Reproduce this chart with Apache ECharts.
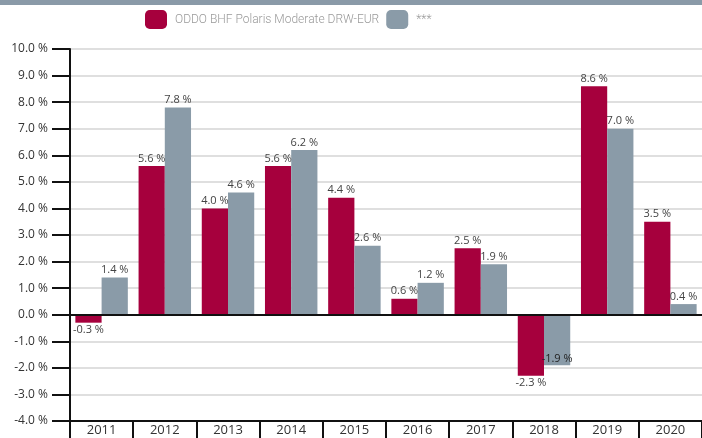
<!DOCTYPE html>
<html>
<head>
<meta charset="utf-8">
<script src="https://cdn.jsdelivr.net/npm/echarts@6/dist/echarts.min.js"></script>
<style>
html,body{margin:0;padding:0;background:#fff;}
#chart{width:702px;height:438px;}
</style>
</head>
<body>
<div id="chart"></div>
<script>
// data
var years = ['2011','2012','2013','2014','2015','2016','2017','2018','2019','2020'];
var fundValues = [-0.3, 5.6, 4.0, 5.6, 4.4, 0.6, 2.5, -2.3, 8.6, 3.5];
var refValues = [1.4, 7.8, 4.6, 6.2, 2.6, 1.2, 1.9, -1.9, 7.0, 0.4];
var seriesNames = ['ODDO BHF Polaris Moderate DRW-EUR', '***'];

var fmt = function(v){ return v.toFixed(1) + ' %'; };

// negative bars get the label underneath
function buildData(values, insideIdx){
  return values.map(function(v, i){
    var item = { value: v };
    if (i === insideIdx) {
      item.label = { position: 'insideBottom', distance: 1, color: '#222' };
    } else if (v < 0) {
      item.label = { position: 'bottom' };
    }
    return item;
  });
}

var myChart = echarts.init(document.getElementById('chart'));
var labelStyle = {
  show: true,
  position: 'top',
  distance: 2,
  fontFamily: 'Open Sans',
  fontSize: 11,
  color: '#444',
  formatter: function(p){ return fmt(p.value); }
};

var option = {
  animation: false,
  textStyle: { fontFamily: 'Open Sans' },
  graphic: [{
    type: 'rect',
    shape: { x: 0, y: 0, width: 702, height: 5 },
    style: { fill: '#8a9aa8' }
  }],
  legend: {
    left: 145,
    top: 10,
    padding: 0,
    icon: 'roundRect',
    itemWidth: 22,
    itemHeight: 19,
    itemGap: 7,
    textStyle: { color: '#9a9a9a', fontSize: 12, fontWeight: 300, fontFamily: 'Roboto', padding: [0, 0, 0, 3] },
    data: seriesNames
  },
  grid: { left: 70, right: 0, top: 49, bottom: 17 },
  xAxis: {
    type: 'category',
    data: years,
    axisLine: { onZero: false, lineStyle: { color: '#111', width: 2 } },
    axisTick: { show: true, length: 18, lineStyle: { color: '#111', width: 2 } },
    axisLabel: { color: '#333', fontSize: 13, margin: 3 }
  },
  yAxis: {
    type: 'value',
    min: -4,
    max: 10,
    interval: 1,
    axisLine: { show: true, lineStyle: { color: '#111', width: 2 } },
    axisTick: { show: true, length: 18, lineStyle: { color: '#111', width: 2 } },
    axisLabel: { color: '#333', fontSize: 12, margin: 22, formatter: fmt },
    splitLine: { lineStyle: { color: '#d4d4d4', width: 1.5 } }
  },
  series: [
    {
      name: seriesNames[0],
      type: 'bar',
      data: buildData(fundValues, -1),
      barGap: '0%',
      barCategoryGap: '17%',
      itemStyle: { color: '#a6003d' },
      label: labelStyle,
      markLine: {
        silent: true,
        symbol: 'none',
        label: { show: false },
        lineStyle: { color: '#111', width: 2, type: 'solid' },
        data: [{ yAxis: 0 }]
      }
    },
    {
      name: seriesNames[1],
      type: 'bar',
      data: buildData(refValues, 7),
      itemStyle: { color: '#8a9ba8' },
      label: labelStyle
    }
  ]
};
myChart.setOption(option);
</script>
</body>
</html>
